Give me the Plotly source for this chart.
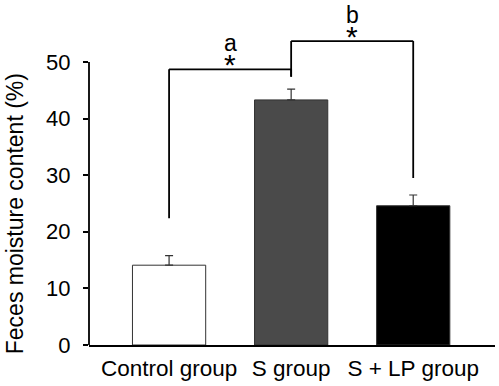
import plotly.graph_objects as go

categories = ["Control group", "S group", "S + LP group"]
means = [14.1, 43.3, 24.6]
errors = [1.7, 1.9, 1.9]
bar_colors = ["#ffffff", "#4a4a4a", "#000000"]
y_ticks = [0, 10, 20, 30, 40, 50]
y_title = "Feces moisture content (%)"

# significance brackets: (left group, right group, left foot, right foot, top)
brackets = [
    ("Control group", "S group", 22.4, 47.4, 48.7),
    ("S group", "S + LP group", 47.4, 29.5, 53.7),
]
bracket_letters = ["a", "b"]

FONT = "Liberation Sans, Arial, sans-serif"

fig = go.Figure()
fig.add_trace(go.Bar(
    x=categories, y=means, width=0.6,
    marker=dict(color=bar_colors, line=dict(color="#333333", width=1)),
    error_y=dict(type="data", array=errors, arrayminus=[0, 0, 0], symmetric=False,
                 color="#333333", thickness=1.2, width=4),
    showlegend=False,
))

shapes = []
shapes.append(dict(type="line", xref="paper", yref="y", x0=0, x1=0, y0=0, y1=max(y_ticks),
                   line=dict(color="black", width=1.8)))
annotations = []
for (g1, g2, f1, f2, top), letter in zip(brackets, bracket_letters):
    i1, i2 = categories.index(g1), categories.index(g2)
    for (xa, xb, ya, yb) in [(i1, i1, f1, top), (i1, i2, top, top), (i2, i2, f2, top)]:
        shapes.append(dict(type="line", xref="x", yref="y", x0=xa, x1=xb, y0=ya, y1=yb,
                           line=dict(color="black", width=1.8)))
    mid = (i1 + i2) / 2
    annotations.append(dict(x=mid, y=top, xref="x", yref="y", text="*", showarrow=False,
                            yanchor="middle", yshift=5, font=dict(family=FONT, size=30, color="black")))
    annotations.append(dict(x=mid, y=top, xref="x", yref="y", text=letter, showarrow=False,
                            yanchor="middle", yshift=26, font=dict(family=FONT, size=23, color="black")))

annotations.append(dict(x=0, xref="paper", xshift=-74, xanchor="center",
                        y=23.1, yref="y", yanchor="middle", textangle=-90,
                        text=y_title, showarrow=False,
                        font=dict(family=FONT, size=23, color="black")))

fig.update_layout(
    width=499, height=386,
    margin=dict(l=89, r=4, t=0, b=41),
    paper_bgcolor="white", plot_bgcolor="white",
    font=dict(family=FONT, size=22, color="black"),
    shapes=shapes, annotations=annotations,
    xaxis=dict(type="category", range=[-0.656, 2.67], showline=True, linecolor="black",
               linewidth=1.8, ticks="", showgrid=False, zeroline=False, automargin=False,
               tickfont=dict(size=22.5), ticklabelstandoff=2),
    yaxis=dict(range=[0, 60.95], showline=False, tickvals=y_ticks, ticks="outside",
               ticklen=5, tickwidth=1.8, tickcolor="black", showgrid=False, zeroline=False,
               automargin=False, tickfont=dict(size=22), ticklabelstandoff=8),
)
fig.write_html("out.html", config={"displayModeBar": False},
               post_script="document.body.style.margin='0px';")
